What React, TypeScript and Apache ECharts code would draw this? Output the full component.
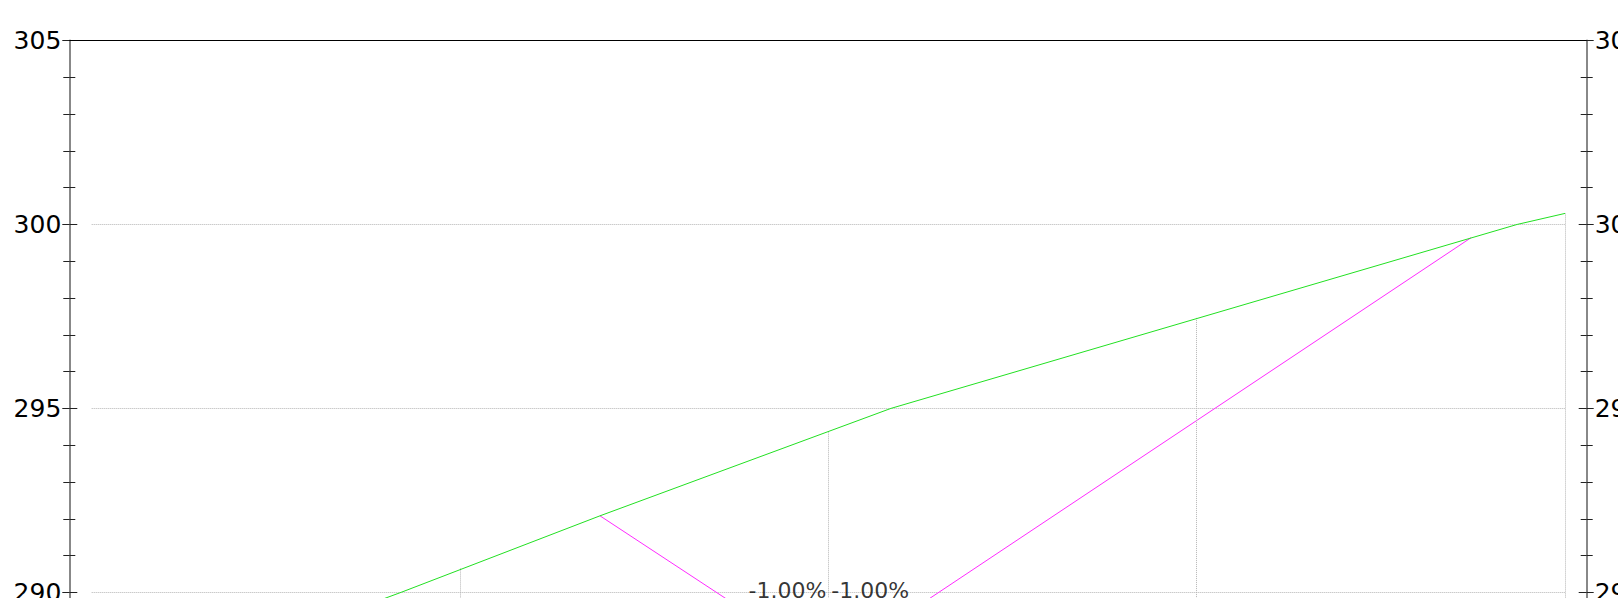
import { useEffect, useRef } from 'react';
import * as echarts from 'echarts';

// ---- data ----
const greenX = [0, 0.84, 1.38, 2.17, 3.87, 4.0];
const greenY = [286.9, 290.0, 292.08, 295.0, 300.0, 300.3];
const zigzagX = [1.38, 2.0, 3.745];
const zigzagY = [292.08, 288.0, 299.64];
const dropX = [0, 1, 2, 3, 4];
const dropTopY = [286.9, 290.65, 294.35, 297.46, 300.3];
const pctLabelX = [2, 2];
const pctLabelY = [290.05, 290.05];
const pctLabelTexts = ['-1.00%', '-1.00%'];
const Y_MIN = 285;
const Y_MAX = 305;
const Y_STEP = 5;
const X_MIN = 0;
const X_MAX = 4;

// ---- layout ----
const W = 1618;
const H = 598;
const GRID_LEFT = 91.7;
const GRID_RIGHT = 53;
const GRID_TOP = 40.5;
const PX_PER_UNIT = 36.79;
const AXIS_OFF_L = 22.4;
const AXIS_OFF_R = 21.7;
const FONT = 'DejaVu Sans, Verdana, sans-serif';
const GRID_H = (Y_MAX - Y_MIN) * PX_PER_UNIT;
const INNER_H = Math.ceil(GRID_TOP + GRID_H + 40);
const GRID_COLOR = '#b4b4b4';

export default function App() {
  const ref = useRef<HTMLDivElement>(null);
  useEffect(() => {
    if (!ref.current) return;
    const chart = echarts.init(ref.current, null, { renderer: 'svg' });

    const yBase = (position: 'left' | 'right', offset: number, inside: boolean, withLabels: boolean) => ({
      type: 'value',
      position,
      offset,
      min: Y_MIN,
      max: Y_MAX,
      interval: Y_STEP,
      axisLine: { show: !inside, onZero: false, lineStyle: { color: '#888', width: 2 } },
      axisTick: { show: true, inside, length: inside ? 8 : 7, lineStyle: { color: '#222', width: 1 } },
      minorTick: { show: true, splitNumber: 5, length: 6, lineStyle: { color: '#222', width: 1 } },
      axisLabel: {
        show: withLabels,
        margin: 8,
        fontSize: 25,
        fontFamily: FONT,
        color: '#000',
      },
      splitLine: {
        show: withLabels && position === 'left',
        lineStyle: { type: 'dotted', color: GRID_COLOR, width: 1 },
      },
      minorSplitLine: { show: false },
    });

    const dropLines = dropX.map((x, i) => [
      { coord: [x, dropTopY[i]] },
      { coord: [x, Y_MIN] },
    ]);

    const topLineX1 = GRID_LEFT - AXIS_OFF_L;
    const topLineX2 = W - GRID_RIGHT + AXIS_OFF_R;

    chart.setOption({
      animation: false,
      backgroundColor: '#fff',
      grid: {
        left: GRID_LEFT,
        right: GRID_RIGHT,
        top: GRID_TOP,
        height: GRID_H,
        containLabel: false,
        outerBoundsMode: 'none',
      },
      xAxis: {
        type: 'value',
        min: X_MIN,
        max: X_MAX,
        interval: 1,
        show: true,
        axisLine: { show: false },
        axisTick: { show: false },
        axisLabel: { show: false },
        splitLine: { show: false },
      },
      yAxis: [
        yBase('left', AXIS_OFF_L, false, true),
        yBase('left', AXIS_OFF_L, true, false),
        yBase('right', AXIS_OFF_R, false, true),
        yBase('right', AXIS_OFF_R, true, false),
      ],
      graphic: [
        {
          type: 'line',
          shape: { x1: topLineX1, y1: GRID_TOP, x2: topLineX2, y2: GRID_TOP },
          style: { stroke: '#000', lineWidth: 1 },
          z: 100,
        },
      ],
      series: [
        {
          type: 'line',
          name: 'drops',
          data: [],
          markLine: {
            silent: true,
            symbol: ['none', 'none'],
            label: { show: false },
            lineStyle: { type: 'dotted', color: GRID_COLOR, width: 1 },
            data: dropLines,
          },
        },
        {
          type: 'line',
          name: 'price',
          data: greenX.map((x, i) => [x, greenY[i]]),
          showSymbol: false,
          symbol: 'none',
          lineStyle: { color: '#22e022', width: 1 },
          z: 5,
        },
        {
          type: 'line',
          name: 'zigzag',
          data: zigzagX.map((x, i) => [x, zigzagY[i]]),
          showSymbol: false,
          symbol: 'none',
          lineStyle: { color: '#ff2bff', width: 1 },
          z: 4,
        },
        {
          type: 'scatter',
          name: 'pct',
          symbolSize: 0,
          data: pctLabelX.map((x, i) => ({
            value: [x, pctLabelY[i]],
            label: {
              show: true,
              formatter: pctLabelTexts[i],
              position: i === 0 ? 'left' : 'right',
              distance: i === 0 ? 2 : 3,
              fontSize: 22,
              fontFamily: FONT,
              color: '#000',
            },
          })),
          z: 6,
        },
      ],
    });
    return () => chart.dispose();
  }, []);

  return (
    <div
      style={{ position: 'fixed', left: 0, top: 0, width: W, height: H, overflow: 'hidden', background: '#fff' }}
    >
      <div ref={ref} style={{ width: W, height: INNER_H }} />
    </div>
  );
}
